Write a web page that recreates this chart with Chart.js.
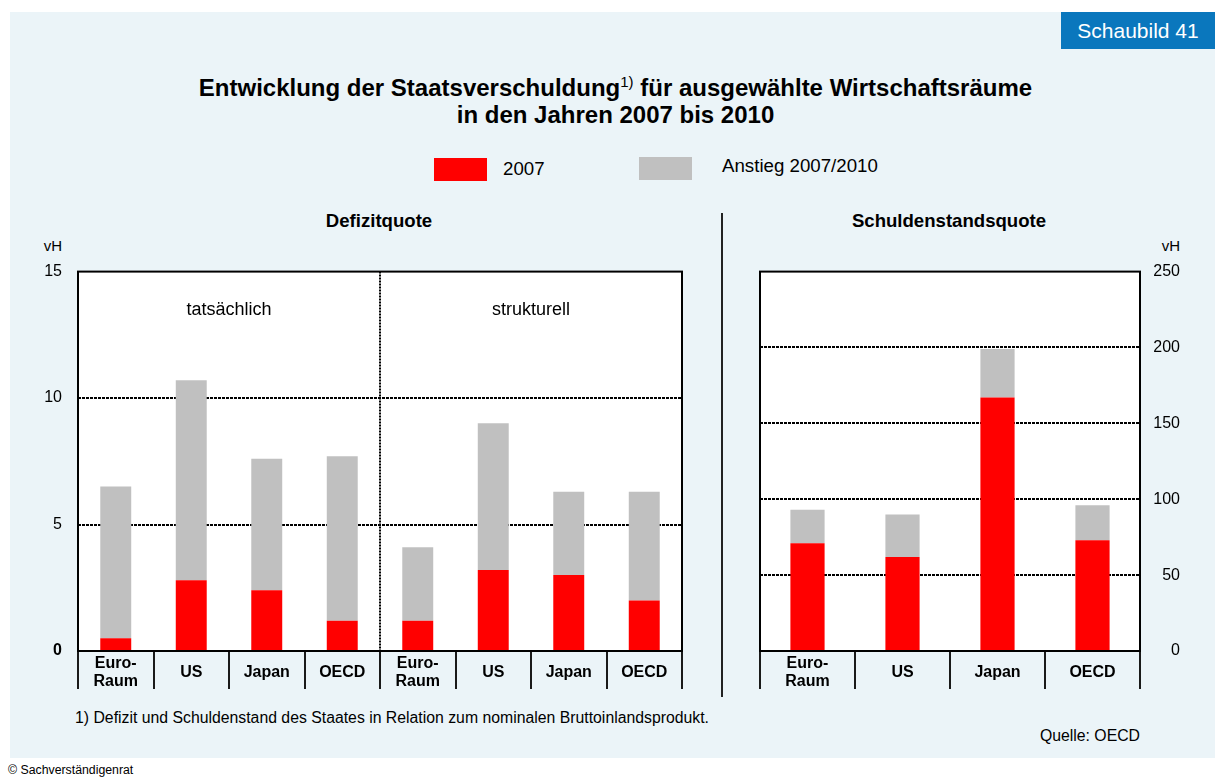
<!DOCTYPE html>
<html lang="de">
<head>
<meta charset="utf-8">
<title>Entwicklung der Staatsverschuldung</title>
<script src="https://cdn.jsdelivr.net/npm/chart.js@4/dist/chart.umd.min.js"></script>
<style>
  html, body { margin: 0; padding: 0; }
  body { width: 1215px; height: 781px; background: #fff; position: relative; overflow: hidden;
         font-family: "Liberation Sans", Arial, Helvetica, sans-serif; color: #000; }
  .panel { position: absolute; left: 10px; top: 12px; width: 1205px; height: 746px; background: #ebf4f8; }
  .badge { position: absolute; left: 1061px; top: 12px; width: 154px; height: 37px; background: #0a77bd;
           color: #fff; font-size: 21px; line-height: 37px; text-align: center; }
  .title { position: absolute; left: 0; width: 1231px; top: 74px; text-align: center; font-weight: bold;
           font-size: 24px; line-height: 27px; }
  .title sup { font-size: 15px; font-weight: normal; vertical-align: 9px; line-height: 0; }
  .legend-box { position: absolute; width: 53px; height: 23px; }
  .legend-text { position: absolute; font-size: 18.7px; line-height: 22px; }
  .sub { position: absolute; font-weight: bold; font-size: 18.6px; line-height: 22px; text-align: center; }
  .unit { position: absolute; font-size: 15px; line-height: 18px; }
  .divider { position: absolute; left: 721px; top: 213px; width: 2px; height: 484px; background: #222; }
  .note { position: absolute; font-size: 15.8px; line-height: 18px; }
  canvas { position: absolute; }
</style>
</head>
<body>
<div class="panel"></div>
<div class="badge">Schaubild 41</div>

<div class="title">Entwicklung der Staatsverschuldung<sup>1)</sup> für ausgewählte Wirtschaftsräume<br>in den Jahren 2007 bis 2010</div>

<div class="legend-box" style="left:434px;top:158px;background:#ff0000"></div>
<div class="legend-text" id="leg1" style="left:503px;top:158px"></div>
<div class="legend-box" style="left:639px;top:157px;background:#c0c0c0"></div>
<div class="legend-text" id="leg2" style="left:722px;top:155px"></div>

<div class="sub" style="left:229px;width:300px;top:210px">Defizitquote</div>
<div class="sub" style="left:799px;width:300px;top:210px">Schuldenstandsquote</div>

<div class="unit" style="left:12px;width:50px;text-align:right;top:237px">vH</div>
<div class="unit" style="left:1130px;width:50px;text-align:right;top:237px">vH</div>

<div class="divider"></div>

<canvas id="defizit" width="680" height="459" style="left:20px;top:246px"></canvas>
<canvas id="schulden" width="460" height="459" style="left:740px;top:246px"></canvas>

<div class="note" style="left:75px;top:709px">1) Defizit und Schuldenstand des Staates in Relation zum nominalen Bruttoinlandsprodukt.</div>
<div class="note" style="left:900px;width:240px;text-align:right;top:727px">Quelle: OECD</div>
<div class="note" style="left:8px;top:762px;font-size:12.3px;line-height:16px">© Sachverständigenrat</div>

<script>
// Series names
const seriesNames = ['2007', 'Anstieg 2007/2010'];

// Defizitquote (vH): tatsächlich (first four) and strukturell (last four)
const defizitCategories = [['Euro-', 'Raum'], 'US', 'Japan', 'OECD', ['Euro-', 'Raum'], 'US', 'Japan', 'OECD'];
const defizitGroups = ['tatsächlich', 'strukturell'];
const defizit2007 = [0.5, 2.8, 2.4, 1.2, 1.2, 3.2, 3.0, 2.0];
const defizitAnstieg = [6.0, 7.9, 5.2, 6.5, 2.9, 5.8, 3.3, 4.3];
const defizitTicks = [0, 5, 10, 15];

// Schuldenstandsquote (vH)
const schuldenCategories = [['Euro-', 'Raum'], 'US', 'Japan', 'OECD'];
const schulden2007 = [71, 62, 167, 73];
const schuldenAnstieg = [22, 28, 32, 23];
const schuldenTicks = [0, 50, 100, 150, 200, 250];

document.getElementById('leg1').textContent = seriesNames[0];
document.getElementById('leg2').textContent = seriesNames[1];

const FONT = '"Liberation Sans", Arial, Helvetica, sans-serif';
const RED = '#ff0000';
const GREY = '#c0c0c0';

// White plot background and black frame around the chart area
const framePlugin = {
  id: 'frame',
  beforeDraw(chart) {
    const { ctx, chartArea: a } = chart;
    ctx.save();
    ctx.fillStyle = '#ffffff';
    ctx.fillRect(a.left, a.top, a.right - a.left, a.bottom - a.top);
    ctx.restore();
  },
  afterDatasetsDraw(chart) {
    const { ctx, chartArea: a } = chart;
    ctx.save();
    ctx.strokeStyle = '#000';
    ctx.lineWidth = 2;
    ctx.strokeRect(a.left, a.top, a.right - a.left, a.bottom - a.top);
    ctx.restore();
  }
};

// Category names centred in the band below the plot, one or two lines each
const categoryLabelPlugin = {
  id: 'categoryLabels',
  afterDraw(chart) {
    const { ctx, chartArea: a, scales: { x } } = chart;
    const lh = 18;
    ctx.save();
    ctx.fillStyle = '#000';
    ctx.font = 'bold 16px ' + FONT;
    ctx.textAlign = 'center';
    ctx.textBaseline = 'middle';
    chart.data.labels.forEach((lab, i) => {
      const lines = Array.isArray(lab) ? lab : [lab];
      const cx = x.getPixelForValue(i);
      const y0 = a.bottom + 21.5 - (lines.length - 1) * lh / 2;
      lines.forEach((t, k) => ctx.fillText(t, cx, y0 + k * lh));
    });
    ctx.restore();
  }
};

// Dotted divider between the two groups and their captions
const groupPlugin = {
  id: 'groups',
  afterDatasetsDraw(chart, args, opts) {
    if (!opts.labels) return;
    const { ctx, chartArea: a, scales: { x, y } } = chart;
    const per = opts.size;
    ctx.save();
    for (let g = 1; g < opts.labels.length; g++) {
      const xd = (x.getPixelForValue(g * per - 1) + x.getPixelForValue(g * per)) / 2;
      ctx.strokeStyle = '#000';
      ctx.lineWidth = 2;
      ctx.setLineDash([2, 1]);
      ctx.beginPath();
      ctx.moveTo(xd, a.top);
      ctx.lineTo(xd, a.bottom);
      ctx.stroke();
    }
    ctx.setLineDash([]);
    ctx.fillStyle = '#000';
    ctx.font = '18px ' + FONT;
    ctx.textAlign = 'center';
    ctx.textBaseline = 'middle';
    opts.labels.forEach((lab, g) => {
      const cx = (x.getPixelForValue(g * per) + x.getPixelForValue(g * per + per - 1)) / 2;
      ctx.fillText(lab, cx, y.getPixelForValue(opts.at));
    });
    ctx.restore();
  }
};

// Page position wanted for the plot frame (top and bottom edge)
const PLOT_TOP = 272;
const PLOT_BOTTOM = 651;

function makeChart(id, cfg) {
  const tickSet = cfg.ticks;
  const max = tickSet[tickSet.length - 1];
  const canvas = document.getElementById(id);
  const chart = new Chart(canvas, {
    type: 'bar',
    data: {
      labels: cfg.labels,
      datasets: [
        { label: seriesNames[0], data: cfg.base, backgroundColor: RED, borderWidth: 0,
          barPercentage: cfg.barPct, categoryPercentage: 1 },
        { label: seriesNames[1], data: cfg.rise, backgroundColor: GREY, borderWidth: 0,
          barPercentage: cfg.barPct, categoryPercentage: 1 }
      ]
    },
    options: {
      responsive: false,
      maintainAspectRatio: false,
      animation: false,
      events: [],
      layout: { padding: cfg.padding },
      plugins: {
        legend: { display: false },
        tooltip: { enabled: false },
        groups: cfg.groups || {}
      },
      scales: {
        x: {
          stacked: true,
          offset: true,
          grid: { offset: true, drawOnChartArea: false, drawTicks: true, tickLength: 38,
                  color: '#1a1a1a', lineWidth: 2 },
          border: { display: false },
          ticks: { display: false, autoSkip: false, maxRotation: 0 },
          afterFit(s) { s.height = 54; }
        },
        y: {
          stacked: true,
          position: cfg.yPos,
          min: 0,
          max: max,
          afterBuildTicks(s) { s.ticks = tickSet.map(v => ({ value: v })); },
          grid: { drawTicks: false, lineWidth: 2,
                  color: c => (c.tick && c.tick.value > 0 && c.tick.value < max) ? '#000' : 'rgba(0,0,0,0)' },
          border: { display: false, dash: [3, 1] },
          ticks: {
            color: '#000', padding: 16, crossAlign: cfg.yPos === 'right' ? 'far' : 'near',
            font: c => ({ family: FONT, size: 16,
                          weight: (cfg.boldZero && c.tick && c.tick.value === 0) ? 'bold' : 'normal' })
          },
          afterFit(s) { s.width = cfg.yWidth; }
        }
      }
    },
    plugins: [framePlugin, groupPlugin, categoryLabelPlugin]
  });
  // Move/resize the canvas so the plot frame sits at PLOT_TOP..PLOT_BOTTOM on the page
  for (let k = 0; k < 3; k++) {
    const top = parseFloat(canvas.style.top);
    const a = chart.chartArea;
    const dTop = PLOT_TOP - (top + a.top);
    const dBottom = PLOT_BOTTOM - (top + a.bottom);
    if (Math.abs(dTop) < 0.5 && Math.abs(dBottom) < 0.5) break;
    canvas.style.top = (top + dTop) + 'px';
    chart.resize(chart.width, chart.height + dBottom - dTop);
  }
  return chart;
}

makeChart('defizit', {
  labels: defizitCategories,
  base: defizit2007,
  rise: defizitAnstieg,
  ticks: defizitTicks,
  barPct: 0.41,
  yPos: 'left',
  yWidth: 58,
  boldZero: true,
  padding: { top: 0, right: 18, left: 0, bottom: 0 },
  groups: { labels: defizitGroups, size: 4, at: 13.5 }
});

makeChart('schulden', {
  labels: schuldenCategories,
  base: schulden2007,
  rise: schuldenAnstieg,
  ticks: schuldenTicks,
  barPct: 0.36,
  yPos: 'right',
  yWidth: 40,
  boldZero: false,
  padding: { top: 0, right: 20, left: 20, bottom: 0 }
});
</script>
</body>
</html>
